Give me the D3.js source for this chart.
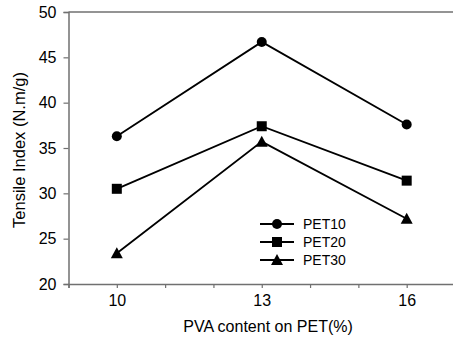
<html>
<head>
	<script src="https://d3js.org/d3.v7.min.js" charset="utf-8"></script>
	<style type="text/css">
	body { margin: 0; background: white; }
	text { font-family: "Liberation Sans", Arial, sans-serif; fill: black; }
	</style>
</head>
<body>
<script type="text/javascript">
	// chart size
	var w = 453;
	var h = 340;

	// data
	var pvaContent = [10, 13, 16];
	var pet10 = [36.3, 46.7, 37.6];
	var pet20 = [30.5, 37.4, 31.4];
	var pet30 = [23.4, 35.7, 27.2];
	var seriesNames = ["PET10", "PET20", "PET30"];
	var seriesShapes = ["circle", "square", "triangle"];
	var xTickLabels = [10, 13, 16];
	var yTicks = [20, 25, 30, 35, 40, 45, 50];

	var allSeries = [pet10, pet20, pet30];

	var svg = d3.select("body")
		.append("svg")
		.attr("width", w)
		.attr("height", h);

	var x = d3.scaleLinear().domain([9, 17]).range([68.5, 455]);
	var y = d3.scaleLinear().domain([20, 50]).range([284, 12]);

	var axisColor = "#707070";

	// top frame line
	svg.append("line")
		.attr("x1", x(9)).attr("x2", w)
		.attr("y1", y(50)).attr("y2", y(50))
		.attr("stroke", axisColor)
		.attr("stroke-width", 1.5);

	// y axis
	var yAxis = svg.append("g")
		.attr("transform", "translate(" + x(9) + ",0)")
		.call(d3.axisLeft(y).tickValues(yTicks).tickSize(5).tickPadding(7));
	yAxis.select(".domain").attr("stroke", axisColor).attr("stroke-width", 1.5);
	yAxis.selectAll(".tick line").attr("stroke", axisColor).attr("stroke-width", 1.2);
	yAxis.selectAll("text")
		.attr("font-size", 16)
		.attr("font-family", "Liberation Sans, Arial, sans-serif")
		.attr("fill", "black");

	// x axis
	var xAxis = svg.append("g")
		.attr("transform", "translate(0," + y(20) + ")")
		.call(d3.axisBottom(x).tickValues(d3.range(9, 18)).tickSize(4).tickPadding(7)
			.tickFormat(function(d) { return xTickLabels.indexOf(d) >= 0 ? d : ""; }));
	xAxis.select(".domain").attr("stroke", axisColor).attr("stroke-width", 1.5);
	xAxis.selectAll(".tick line").attr("stroke", axisColor).attr("stroke-width", 1.2);
	xAxis.selectAll("text")
		.attr("font-size", 16)
		.attr("font-family", "Liberation Sans, Arial, sans-serif")
		.attr("fill", "black");

	// axis titles
	svg.append("text")
		.text("PVA content on PET(%)")
		.attr("text-anchor", "middle")
		.attr("font-size", 16)
		.attr("x", 268)
		.attr("y", 332);
	svg.append("text")
		.text("Tensile Index (N.m/g)")
		.attr("text-anchor", "middle")
		.attr("font-size", 16.5)
		.attr("transform", "translate(25,150) rotate(-90)");

	function drawMarker(g, shape, cx, cy) {
		if (shape == "circle") {
			g.append("circle").attr("cx", cx).attr("cy", cy).attr("r", 5).attr("fill", "black");
		} else if (shape == "square") {
			g.append("rect").attr("x", cx - 5).attr("y", cy - 5).attr("width", 10).attr("height", 10).attr("fill", "black");
		} else {
			g.append("path")
				.attr("d", "M" + cx + "," + (cy - 6) + "L" + (cx + 6) + "," + (cy + 5) + "L" + (cx - 6) + "," + (cy + 5) + "Z")
				.attr("fill", "black");
		}
	}

	var line = d3.line()
		.x(function(d, i) { return x(pvaContent[i]); })
		.y(function(d) { return y(d); });

	allSeries.forEach(function(s, k) {
		var g = svg.append("g");
		g.append("path")
			.attr("d", line(s))
			.attr("fill", "none")
			.attr("stroke", "black")
			.attr("stroke-width", 1.8);
		s.forEach(function(v, i) {
			drawMarker(g, seriesShapes[k], x(pvaContent[i]), y(v));
		});
	});

	// legend
	var legend = svg.append("g");
	seriesNames.forEach(function(name, k) {
		var ly = 224 + k * 18;
		legend.append("line")
			.attr("x1", 260).attr("x2", 294)
			.attr("y1", ly).attr("y2", ly)
			.attr("stroke", "black")
			.attr("stroke-width", 1.8);
		drawMarker(legend, seriesShapes[k], 277, ly);
		legend.append("text")
			.text(name)
			.attr("font-size", 14)
			.attr("x", 303)
			.attr("y", ly + 5);
	});
</script>
</body>
</html>
